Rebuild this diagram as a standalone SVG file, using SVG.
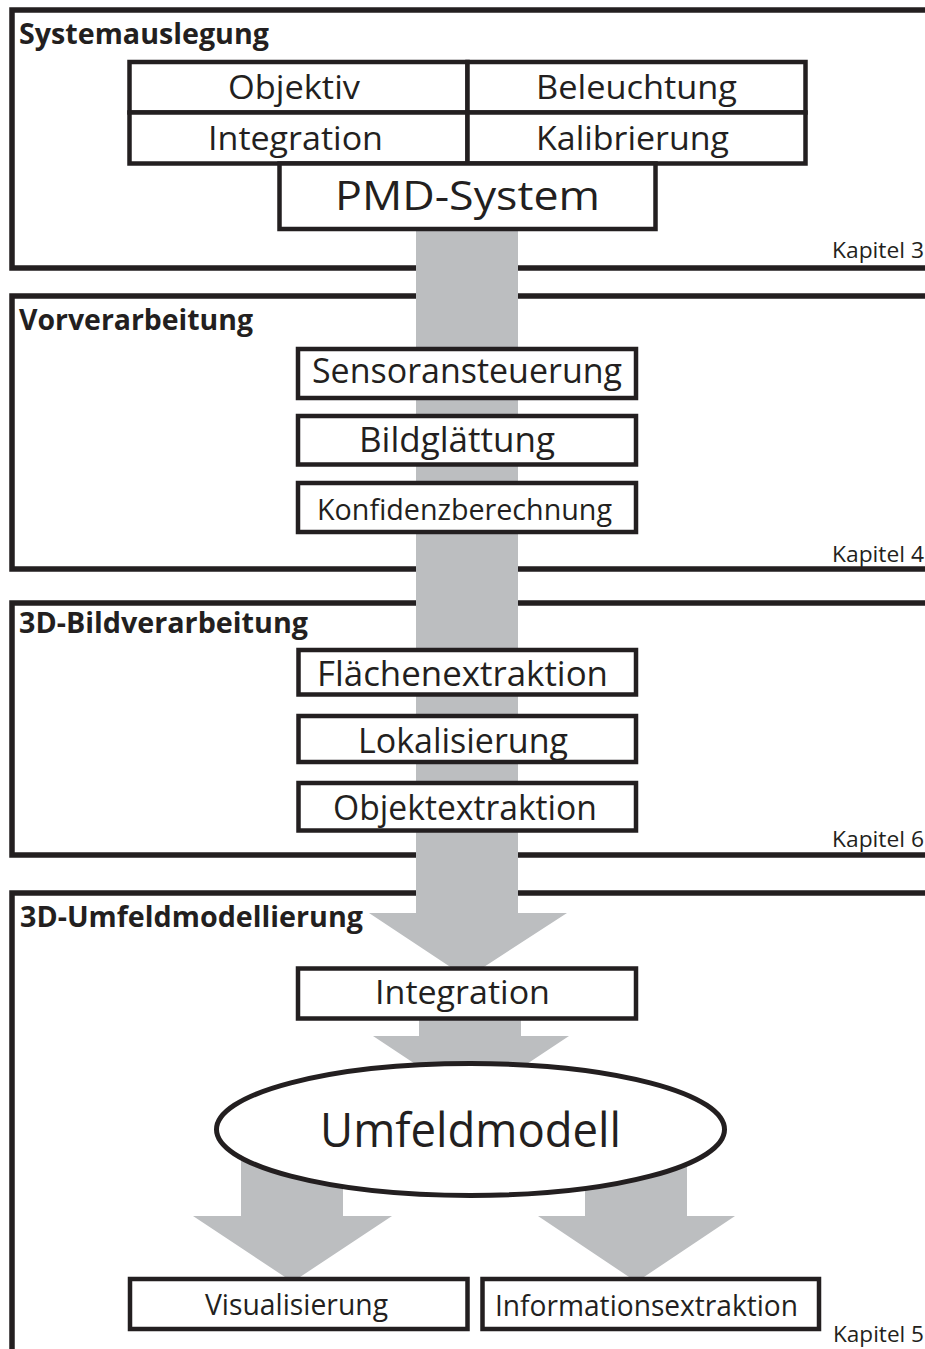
<svg xmlns="http://www.w3.org/2000/svg" width="925" height="1349" viewBox="0 0 925 1349">
<style>
.sec{fill:none;stroke:#231f20;stroke-width:5.5;stroke-linejoin:miter}
.box{fill:#fff;stroke:#231f20;stroke-width:4.5}
.arrow{fill:#bcbec0}
text{font-family:"Open Sans","Liberation Sans",sans-serif;fill:#231f20}
.lbl{font-weight:700;font-size:28px}
.k{font-size:21px}
.m{font-size:34px}
.g{font-size:33px}
.s{font-size:29px}
</style>
<rect width="925" height="1349" fill="#fff"/>
<g id="sections">
<path class="sec" d="M925,10 H12 V268 H925"/>
<path class="sec" d="M925,296 H12 V569 H925"/>
<path class="sec" d="M925,603 H12 V855 H925"/>
<path class="sec" d="M925,893 H12 V1349"/>
</g>
<g id="connectors">
<polygon class="arrow" points="416,229 518,229 518,913 567,913 467,978 369,913 416,913"/>
<polygon class="arrow" points="419,1018 521,1018 521,1036 569,1036 471,1101 373,1036 419,1036"/>
<polygon class="arrow" points="241,1150 343,1150 343,1216 392,1216 292.5,1282 193,1216 241,1216"/>
<polygon class="arrow" points="585,1150 687,1150 687,1216 735,1216 636.5,1282 538,1216 585,1216"/>
</g>
<g id="section-labels">
<text class="lbl" x="19" y="44" textLength="250" lengthAdjust="spacingAndGlyphs">Systemauslegung</text>
<text class="lbl" x="19" y="330" textLength="234" lengthAdjust="spacingAndGlyphs">Vorverarbeitung</text>
<text class="lbl" x="19" y="633" textLength="289" lengthAdjust="spacingAndGlyphs">3D-Bildverarbeitung</text>
<text class="lbl" x="20" y="927" textLength="343" lengthAdjust="spacingAndGlyphs">3D-Umfeldmodellierung</text>
<text class="k" x="832" y="258" textLength="92" lengthAdjust="spacingAndGlyphs">Kapitel 3</text>
<text class="k" x="832" y="562" textLength="92" lengthAdjust="spacingAndGlyphs">Kapitel 4</text>
<text class="k" x="832" y="847" textLength="92" lengthAdjust="spacingAndGlyphs">Kapitel 6</text>
<text class="k" x="833" y="1342" textLength="91" lengthAdjust="spacingAndGlyphs">Kapitel 5</text>
</g>
<g id="node-objektiv">
<rect class="box" x="129.5" y="62" width="338" height="50.5"/>
<text class="g" x="228" y="99" textLength="132" lengthAdjust="spacingAndGlyphs">Objektiv</text>
</g>
<g id="node-beleuchtung">
<rect class="box" x="467.5" y="62" width="338" height="50.5"/>
<text class="g" x="536" y="99" textLength="201" lengthAdjust="spacingAndGlyphs">Beleuchtung</text>
</g>
<g id="node-integration1">
<rect class="box" x="129.5" y="112.5" width="338" height="51"/>
<text class="g" x="208" y="150" textLength="175" lengthAdjust="spacingAndGlyphs">Integration</text>
</g>
<g id="node-kalibrierung">
<rect class="box" x="467.5" y="112.5" width="338" height="51"/>
<text class="g" x="536" y="150" textLength="193" lengthAdjust="spacingAndGlyphs">Kalibrierung</text>
</g>
<g id="node-pmd">
<rect class="box" x="279.5" y="163.5" width="376" height="65.5"/>
<text style="font-size:41px" x="335" y="210" textLength="265" lengthAdjust="spacingAndGlyphs">PMD-System</text>
</g>
<g id="node-sensoransteuerung">
<rect class="box" x="298" y="349" width="338" height="49"/>
<text class="m" x="312" y="383" textLength="310" lengthAdjust="spacingAndGlyphs">Sensoransteuerung</text>
</g>
<g id="node-bildglaettung">
<rect class="box" x="298" y="416" width="338" height="48.5"/>
<text class="m" x="359" y="452" textLength="196" lengthAdjust="spacingAndGlyphs">Bildglättung</text>
</g>
<g id="node-konfidenz">
<rect class="box" x="298" y="483" width="338" height="49"/>
<text style="font-size:30px" x="317" y="520" textLength="295" lengthAdjust="spacingAndGlyphs">Konfidenzberechnung</text>
</g>
<g id="node-flaechen">
<rect class="box" x="298.5" y="650" width="337.5" height="44.5"/>
<text class="m" x="317" y="686" textLength="291" lengthAdjust="spacingAndGlyphs">Flächenextraktion</text>
</g>
<g id="node-lokalisierung">
<rect class="box" x="298.5" y="716" width="337.5" height="46"/>
<text class="m" x="358" y="753" textLength="210" lengthAdjust="spacingAndGlyphs">Lokalisierung</text>
</g>
<g id="node-objektextraktion">
<rect class="box" x="298.5" y="783" width="337.5" height="47.5"/>
<text class="m" x="333" y="820" textLength="264" lengthAdjust="spacingAndGlyphs">Objektextraktion</text>
</g>
<g id="node-integration2">
<rect class="box" x="298" y="968.5" width="338" height="50"/>
<text class="g" x="375" y="1004" textLength="175" lengthAdjust="spacingAndGlyphs">Integration</text>
</g>
<g id="node-umfeldmodell">
<ellipse cx="470.5" cy="1129.5" rx="254" ry="66" style="fill:#fff;stroke:#231f20;stroke-width:5"/>
<text style="font-size:48px" x="320" y="1147" textLength="301" lengthAdjust="spacingAndGlyphs">Umfeldmodell</text>
</g>
<g id="node-visualisierung">
<rect class="box" x="130" y="1279" width="337.5" height="50"/>
<text class="s" x="205" y="1315" textLength="183" lengthAdjust="spacingAndGlyphs">Visualisierung</text>
</g>
<g id="node-informationsextraktion">
<rect class="box" x="482.5" y="1279" width="336.5" height="50"/>
<text class="s" x="495" y="1316" textLength="303" lengthAdjust="spacingAndGlyphs">Informationsextraktion</text>
</g>
</svg>
